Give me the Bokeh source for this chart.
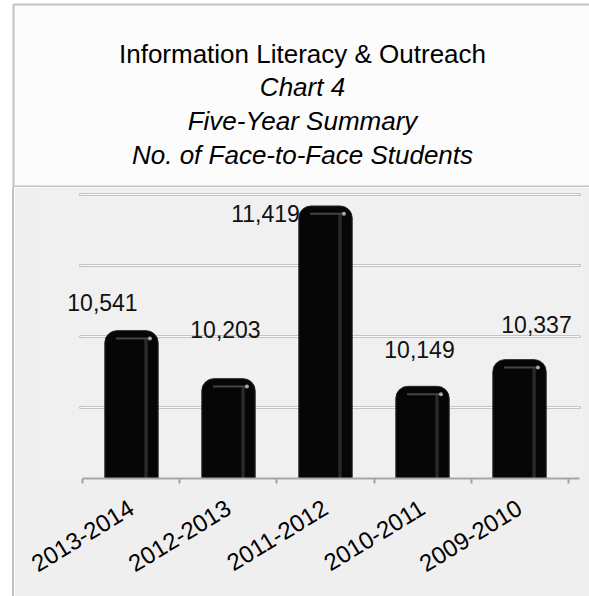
from bokeh.plotting import figure
from bokeh.models import ColumnDataSource, Range1d, FixedTicker, Div, LabelSet
from bokeh.layouts import column, row
from bokeh.transform import dodge
from bokeh.core.properties import value
from bokeh.embed import file_html
from bokeh.resources import INLINE

# ---- data ----
categories = ["2013-2014", "2012-2013", "2011-2012", "2010-2011", "2009-2010"]
students = [10541, 10203, 11419, 10149, 10337]
grid_ticks = [10000, 10500, 11000, 11500]
title_lines = ["Information Literacy & Outreach", "Chart 4",
               "Five-Year Summary", "No. of Face-to-Face Students"]
title_styles = ["normal", "italic", "italic", "italic"]

# ---- styling (label nudges in screen px, positive = up) ----
label_dx = [-29, -3, -60, -3, 17]
label_dy = [20, 41, -16, 28, 27]

FONT = "Liberation Sans"
W = 589
H_TOP = 187
H_BOT = 409

# ---------------- title panel ----------------
tp = figure(width=W, height=H_TOP, x_range=Range1d(0, W), y_range=Range1d(0, H_TOP),
            min_border=0, toolbar_location=None, output_backend="svg",
            x_axis_location=None, y_axis_location=None)
tp.grid.visible = False
tp.outline_line_color = None
tp.background_fill_color = "white"
tp.border_fill_color = "white"
tp.quad(left=13, right=700, bottom=1, top=183, fill_color="#fcfcfc",
        line_color="#c3c3c3", line_width=2)
tsrc = ColumnDataSource(dict(x=[302] * 4, y=[134, 101, 67, 33],
                             text=title_lines, style=title_styles))
tp.text(x="x", y="y", text="text", source=tsrc, text_font=value(FONT),
        text_font_size="26px", text_font_style="style", text_align="center",
        text_baseline="alphabetic", text_color="black")

# ---------------- bar chart ----------------
xpos = [i + 0.5 for i in range(len(categories))]
src = ColumnDataSource(dict(
    x=xpos, v=students, lab=[f"{v:,}" for v in students],
    dx=label_dx, dy=label_dy))

x_lo, x_hi = -0.026, 5.119
p = figure(width=W - 14, height=H_BOT, x_range=Range1d(-0.438, x_hi + 0.02),
           y_range=Range1d(9500, 11521), toolbar_location=None,
           output_backend="svg", y_axis_location=None,
           min_border_left=26, min_border_right=8, min_border_top=4,
           min_border_bottom=H_BOT - 291)
p.background_fill_color = "#f0f0f0"
p.border_fill_color = "#efefef"
p.outline_line_color = None
p.grid.visible = False

# horizontal gridlines (double-line look), limited to the plot span
gsrc = ColumnDataSource(dict(y=grid_ticks, x0=[x_lo] * len(grid_ticks),
                             x1=[x_hi] * len(grid_ticks)))
p.segment(x0="x0", y0="y", x1="x1", y1="y", source=gsrc, line_color="#c4c4c4",
          line_width=3, line_cap="round")
p.segment(x0="x0", y0="y", x1="x1", y1="y", source=gsrc, line_color="#fafafa",
          line_width=1)

# bars
p.vbar(x="x", top="v", bottom=9500, width=0.55, source=src,
       fill_color="#060606", line_color="#262626", line_width=1,
       border_radius=(12, 12, 0, 0))
# gloss stripe
p.vbar(x=dodge("x", 0.15), top=dodge("v", -60), bottom=9500, width=0.035,
       source=src, fill_color="#2e2e2e", line_color=None, fill_alpha=0.9)
# top highlight
p.rect(x=dodge("x", 0.02), y=dodge("v", -55), width=0.36, height=2,
       height_units="screen", source=src, fill_color="#444444", line_color=None)
p.scatter(x=dodge("x", 0.19), y=dodge("v", -55), size=4, source=src,
          fill_color="#a8a8a8", line_color=None)

# data labels
p.add_layout(LabelSet(x="x", y="v", text="lab", x_offset="dx", y_offset="dy",
                      source=src, text_font=value(FONT), text_font_size="23px",
                      text_align="center", text_baseline="alphabetic",
                      text_color="#111111"))

ax = p.xaxis[0]
ax.bounds = (0, x_hi)
ax.ticker = FixedTicker(ticks=xpos, minor_ticks=list(range(len(categories) + 1)))
ax.major_label_overrides = {x: c for x, c in zip(xpos, categories)}
ax.major_tick_out = 0
ax.major_tick_in = 0
ax.minor_tick_out = 5
ax.minor_tick_in = 0
ax.minor_tick_line_color = "#a0a0a0"
ax.minor_tick_line_width = 2
ax.axis_line_color = "#a6a6a6"
ax.axis_line_width = 2
ax.major_label_orientation = 0.55
ax.major_label_standoff = 22
ax.major_label_text_font = FONT
ax.major_label_text_font_size = "24px"
ax.major_label_text_color = "black"

left_pad = Div(text="", width=12, height=H_BOT, margin=0,
               styles={"background-color": "white"})
left_line = Div(text="", width=2, height=H_BOT, margin=0,
                styles={"background-color": "#c3c3c3"})
layout = column(tp, row(left_pad, left_line, p, spacing=0), spacing=0)

open("out.html", "w").write(file_html(layout, INLINE))
